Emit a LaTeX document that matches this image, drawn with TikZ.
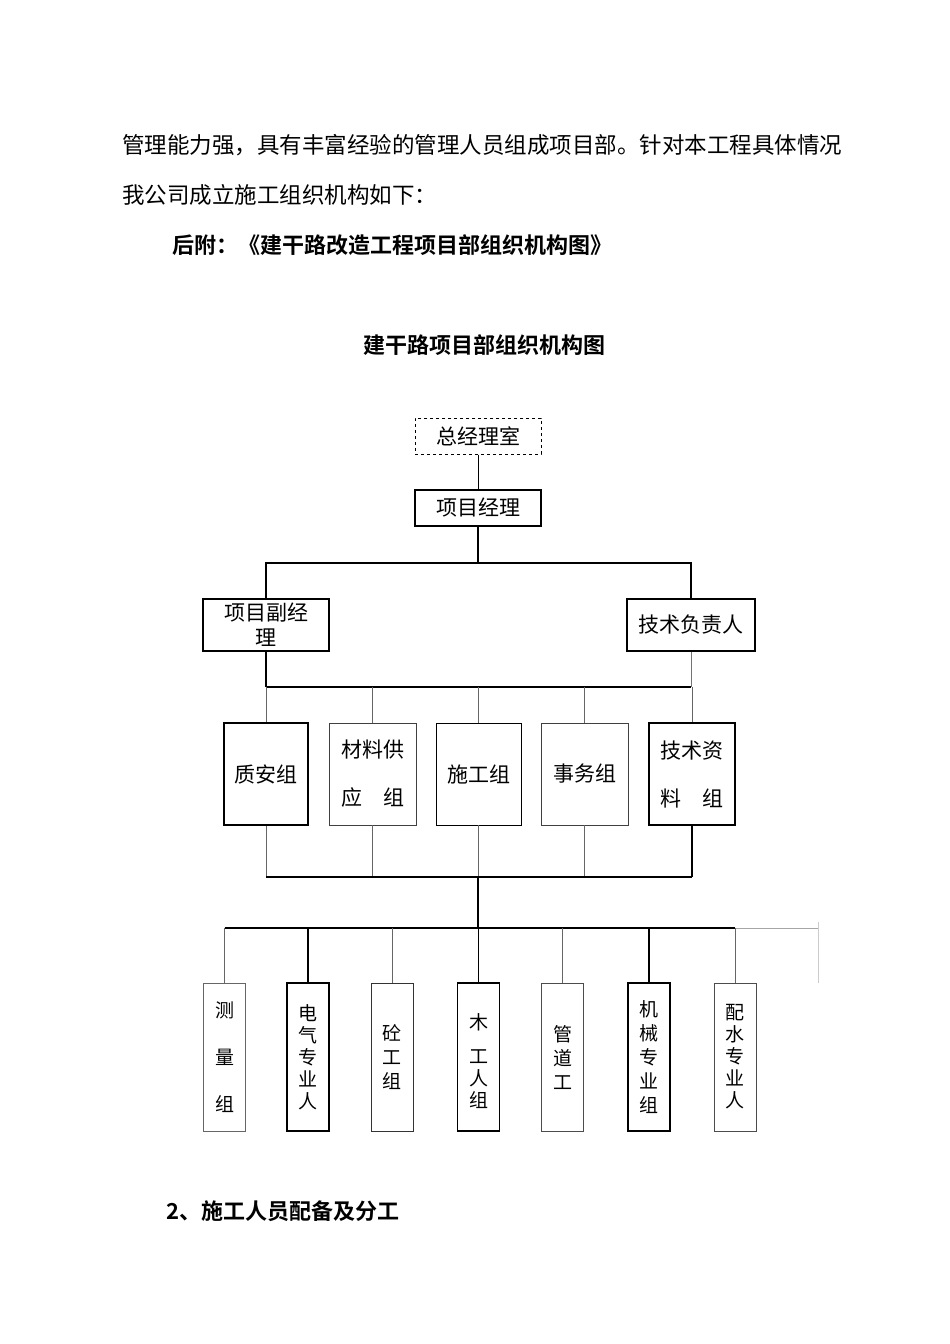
\documentclass[tikz,border=0pt]{standalone}
\usepackage{fontspec}
\setmainfont{Noto Sans CJK SC}[BoldFont={Noto Sans CJK SC Bold}]
\begin{document}
\begin{tikzpicture}[x=1pt,y=-1pt,
  thinln/.style={line width=0.8pt,draw=black!80},
  thickln/.style={line width=1.6pt,draw=black},
  greyln/.style={line width=0.8pt,draw=black!35},
  topbox/.style={draw,line width=1.2pt,minimum width=126,minimum height=36,inner sep=0pt,
     font=\fontsize{21}{24}\selectfont},
  midbox/.style={draw,minimum height=102,inner sep=0pt,align=center,
     font=\fontsize{21}{24}\selectfont},
  lowbox/.style={draw,minimum width=42,minimum height=148,inner sep=0pt,align=center,
     font=\fontsize{19}{22}\selectfont},
  para/.style={anchor=west,inner sep=0pt,font=\fontsize{22.5}{27}\selectfont},
  heading/.style={inner sep=0pt,font=\fontsize{22}{26}\selectfont\bfseries}
]
\useasboundingbox[fill=white] (0,0) rectangle (950,1344);

% body text
\node[para] (p1) at (122,145) {管理能力强，具有丰富经验的管理人员组成项目部。针对本工程具体情况};
\node[para] (p2) at (122,195) {我公司成立施工组织机构如下：};
\node[heading,anchor=west] (p3) at (172,245) {后附：《建干路改造工程项目部组织机构图》};
\node[heading] (title) at (484,345) {建干路项目部组织机构图};
\node[heading,anchor=west] (p4) at (166,1211) {2、施工人员配备及分工};

% top levels
\node[topbox,dashed,line width=1pt] (gm) at (478,436) {总经理室};
\node[topbox] (pm) at (478,508) {项目经理};
\node[topbox,minimum height=52,align=center] (dpm) at (266,625) {项目副经\\[1pt]理};
\node[topbox,minimum width=128,minimum height=52] (tech) at (691,625) {技术负责人};

% middle groups
\node[midbox,line width=1.6pt,minimum width=84] (q) at (266,774) {质安组};
\node[midbox,line width=0.8pt,draw=black!75,minimum width=87] (m) at (372.5,774) {材料供\\[24pt]应\quad 组};
\node[midbox,line width=0.8pt,minimum width=85] (s) at (478.5,774) {施工组};
\node[midbox,line width=0.8pt,draw=black!75,minimum width=87] (w) at (584.5,774) {事务组};
\node[midbox,line width=1.6pt,minimum width=86] (t) at (692,774) {技术资\\[24pt]料\quad 组};

% bottom teams
\node[lowbox,line width=0.8pt,draw=black!60] (b1) at (224.5,1057) {测\\[25pt]量\\[25pt]组};
\node[lowbox,line width=1.6pt] (b2) at (308,1057) {电\\气\\专\\业\\人};
\node[lowbox,line width=0.8pt,draw=black!80] (b3) at (392,1057) {砼\\[2pt]工\\[2pt]组};
\node[lowbox,line width=1.6pt] (b4) at (478.5,1057) {\mbox{}\\[2pt]木\\[12pt]工\\人\\组};
\node[lowbox,line width=0.8pt,draw=black!70] (b5) at (562.5,1057) {管\\[2pt]道\\[2pt]工};
\node[lowbox,line width=1.6pt] (b6) at (649,1057) {机\\[2pt]械\\[2pt]专\\[2pt]业\\[2pt]组};
\node[lowbox,line width=0.8pt,draw=black!70] (b7) at (735,1057) {配\\水\\专\\业\\人};

% connectors, top
\coordinate (j1) at (478,563);
\coordinate (j2) at (478,687);
\coordinate (j3) at (478,877);
\coordinate (j4) at (478,928);
\coordinate (e1) at (818,928);
\coordinate (e2) at (818,983);

\draw[line width=1pt] (gm) -- (pm);
\draw[line width=1.2pt] (pm.south) -- (j1);
\draw[line width=1.2pt] (dpm.north) -- (dpm.north |- j1) -- (tech.north |- j1) -- (tech.north);

% bus 2
\draw[thickln] (dpm.south) -- (dpm.south |- j2);
\draw[thinln,draw=black!55] (tech.south) -- (tech.south |- j2);
\draw[thickln] (dpm.south |- j2) -- (tech.south |- j2);
\foreach \n in {q,m,s,w,t} {
  \draw[thinln,draw=black!60] (\n.north |- j2) -- (\n.north);
}

% bus 3
\foreach \n in {q,m,s,w} {
  \draw[thinln,draw=black!60] (\n.south) -- (\n.south |- j3);
}
\draw[thickln] (t.south) -- (t.south |- j3);
\draw[thickln] (q.south |- j3) -- (t.south |- j3);
\draw[line width=1.4pt] (j3) -- (j4);

% bus 4
\draw[line width=1.4pt] (b1.north |- j4) -- (b7.north |- j4);
\draw[greyln] (b7.north |- j4) -- (e1);
\draw[greyln,draw=black!20] (818,922) -- (e2);
\foreach \n in {b1,b3,b5,b7} {
  \draw[thinln,draw=black!60] (\n.north |- j4) -- (\n.north);
}
\foreach \n in {b2,b4,b6} {
  \draw[thickln] (\n.north |- j4) -- (\n.north);
}
\end{tikzpicture}
\end{document}
